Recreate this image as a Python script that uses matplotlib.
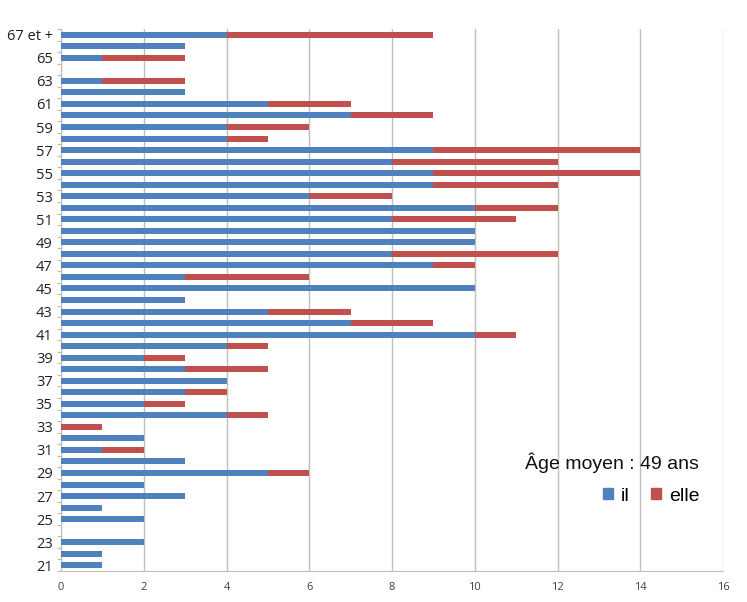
import matplotlib
matplotlib.use("Agg")
import matplotlib.pyplot as plt
from matplotlib.patches import Patch
import numpy as np

ages = [str(a) for a in range(21, 67)] + ["67 et +"]
il = [1, 1, 2, 0, 2, 1, 3, 2, 5, 3, 1, 2, 0, 4, 2, 3, 4, 3, 2, 4,
      10, 7, 5, 3, 10, 3, 9, 8, 10, 10, 8, 10, 6, 9, 9, 8, 9, 4, 4, 7,
      5, 3, 1, 0, 1, 3, 4]
elle = [0, 0, 0, 0, 0, 0, 0, 0, 1, 0, 1, 0, 1, 1, 1, 1, 0, 2, 1, 1,
        1, 2, 2, 0, 0, 3, 1, 4, 0, 0, 3, 2, 2, 3, 5, 4, 5, 1, 2, 2,
        2, 0, 2, 0, 2, 0, 5]
xticks = list(range(0, 17, 2))
annotation = "Âge moyen : 49 ans"

blue = "#4F81BD"
red = "#C0504D"

fig = plt.figure(figsize=(7.47, 6.02), dpi=100)
ax = fig.add_axes([61/747, 1-571/602, (723-61)/747, (571-29)/602])

y = np.arange(len(ages))
ax.barh(y, il, height=0.52, color=blue, zorder=3)
ax.barh(y, elle, left=il, height=0.52, color=red, zorder=3)

ax.set_xlim(0, 16)
ax.set_ylim(-0.5, len(ages) - 0.5)
ax.set_xticks(xticks)
ax.set_xticklabels([str(t) for t in xticks], fontsize=8, color="#404040", family="Open Sans")
ax.tick_params(axis="x", length=0, pad=8)
ax.xaxis.grid(True, color="#BFBFBF", linewidth=1, zorder=0)

ax.set_yticks(y[::2])
ax.set_yticklabels(ages[::2], fontsize=10.5, family="Open Sans", color="#202020")
ax.set_yticks(np.arange(-0.5, len(ages), 1), minor=True)
ax.tick_params(axis="y", which="major", length=0, pad=6)
ax.tick_params(axis="y", which="minor", length=3, color="#D9B38C", width=0.8)

for s in ["top", "right"]:
    ax.spines[s].set_visible(False)
ax.spines["left"].set_color("#BFBFBF")
ax.spines["bottom"].set_color("#BFBFBF")

ax.text(0.832, 0.199, annotation, transform=ax.transAxes, ha="center", va="center",
        fontsize=14, family="Liberation Sans", color="#111111")

handles = [Patch(color=blue, label="il"), Patch(color=red, label="elle")]
ax.legend(handles=handles, loc="center", bbox_to_anchor=(0.892, 0.138), ncol=2,
          frameon=False, handlelength=0.52, handleheight=0.52,
          handletextpad=0.4, columnspacing=1.1, prop={"family": "Liberation Sans", "size": 14})

fig.savefig("out.png", dpi=100, facecolor="white")
